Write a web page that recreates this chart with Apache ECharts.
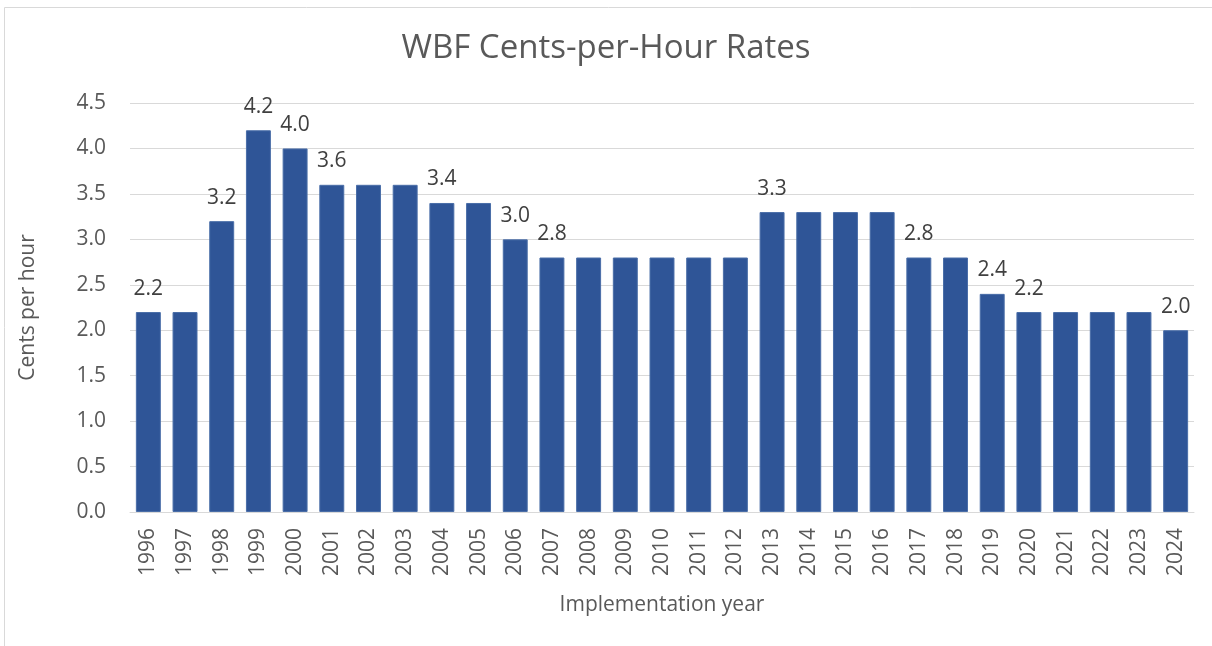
<!DOCTYPE html>
<html lang="en">
<head>
    <meta charset="UTF-8">
    <title>WBF Cents-per-Hour Rates</title>
    <script src="https://cdn.jsdelivr.net/npm/echarts@6/dist/echarts.min.js"></script>
    <style>
        html, body { margin: 0; padding: 0; background: #fff; }
        #chart { width: 1212px; height: 646px; }
    </style>
</head>
<body>
<div id="chart"></div>
<script>
    // data
    var years = ['1996','1997','1998','1999','2000','2001','2002','2003','2004','2005',
        '2006','2007','2008','2009','2010','2011','2012','2013','2014','2015',
        '2016','2017','2018','2019','2020','2021','2022','2023','2024'];
    var rates = [2.2, 2.2, 3.2, 4.2, 4.0, 3.6, 3.6, 3.6, 3.4, 3.4,
        3.0, 2.8, 2.8, 2.8, 2.8, 2.8, 2.8, 3.3, 3.3, 3.3,
        3.3, 2.8, 2.8, 2.4, 2.2, 2.2, 2.2, 2.2, 2.0];
    // only these bars carry a value label
    var labelYears = ['1996','1998','1999','2000','2001','2004','2006','2007',
        '2013','2017','2019','2020','2024'];

    var barData = rates.map(function (v, i) {
        return {
            value: v,
            label: { show: labelYears.indexOf(years[i]) >= 0 }
        };
    });

    var font = '"Open Sans", sans-serif';
    var chart = echarts.init(document.getElementById('chart'));
    chart.setOption({
        animation: false,
        textStyle: { fontFamily: font },
        graphic: [{
            type: 'rect',
            shape: { x: 4.5, y: 7.5, width: 1220, height: 700 },
            style: { fill: 'none', stroke: '#d9d9d9', lineWidth: 1 },
            silent: true
        }],
        title: {
            text: 'WBF Cents-per-Hour Rates',
            left: 'center',
            top: 27,
            textStyle: { fontFamily: font, fontSize: 33, fontWeight: 'normal', color: '#595959' }
        },
        grid: { left: 130, right: 18, top: 103, bottom: 134, containLabel: false },
        xAxis: {
            type: 'category',
            data: years,
            name: 'Implementation year',
            nameLocation: 'middle',
            nameGap: 83,
            nameTextStyle: { fontFamily: font, fontSize: 21, color: '#595959' },
            axisLine: { lineStyle: { color: '#d9d9d9', width: 1 } },
            axisTick: { show: false },
            axisLabel: { rotate: 90, fontSize: 21, color: '#595959', margin: 16, interval: 0 }
        },
        yAxis: {
            type: 'value',
            min: 0,
            max: 4.5,
            interval: 0.5,
            name: 'Cents per hour',
            nameLocation: 'middle',
            nameGap: 91,
            nameRotate: 90,
            nameTextStyle: { fontFamily: font, fontSize: 21, color: '#595959' },
            axisLine: { show: false },
            axisTick: { show: false },
            axisLabel: {
                fontSize: 21, color: '#595959', margin: 24,
                formatter: function (v) { return v.toFixed(1); }
            },
            splitLine: { lineStyle: { color: '#d9d9d9', width: 1 } }
        },
        series: [{
            type: 'bar',
            data: barData,
            barCategoryGap: '32%',
            itemStyle: { color: '#2f5597', borderColor: '#4a6ea8', borderWidth: 1 },
            label: {
                position: 'top',
                distance: 13,
                fontSize: 21,
                color: '#404040',
                formatter: function (p) { return p.value.toFixed(1); }
            }
        }]
    });
</script>
</body>
</html>
